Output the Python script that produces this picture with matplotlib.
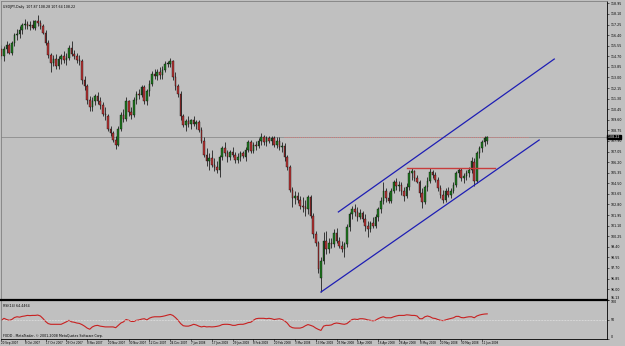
import numpy as np
import matplotlib
matplotlib.use("Agg")
import matplotlib.pyplot as plt

# USDJPY daily, one value per bar (bar index = position on the chart)
opens = [115.30, 114.70, 115.30, 115.60, 115.00, 115.80, 116.40, 116.50, 116.80, 117.20,
         117.30, 117.10, 117.20, 117.00, 117.50, 117.40, 117.10, 116.60, 115.80, 114.80,
         114.20, 114.50, 113.90, 114.50, 114.70, 114.40, 114.60, 115.40, 114.90, 114.70,
         114.40, 114.30, 112.80, 112.30, 111.20, 110.60, 111.10, 111.50, 111.10, 110.80,
         110.10, 109.90, 108.90, 108.50, 108.00, 107.60, 108.90, 110.00, 109.70, 111.10,
         110.20, 110.00, 111.20, 111.70, 111.60, 112.20, 111.10, 111.90, 112.50, 113.30,
         113.10, 113.40, 113.20, 113.60, 114.10, 114.10, 114.30, 113.00, 112.30, 111.70,
         109.90, 109.20, 109.50, 109.30, 109.60, 109.30, 109.40, 108.80, 107.90, 106.80,
         106.30, 106.50, 106.00, 105.80, 105.60, 106.60, 107.30, 106.90, 106.60, 107.00,
         106.80, 106.40, 106.60, 106.90, 106.60, 107.20, 107.80, 107.10, 107.60, 107.50,
         107.90, 108.20, 107.80, 108.10, 107.90, 108.10, 107.60, 107.90, 107.40, 107.50,
         106.60, 105.80, 104.00, 103.30, 103.50, 103.20, 102.70, 102.60, 102.40, 103.40,
         101.90, 100.40, 99.70, 96.90, 98.30, 99.90, 99.20, 99.70, 99.60, 100.50,
         99.90, 99.50, 99.20, 99.60, 101.00, 102.00, 102.40, 102.20, 101.80, 102.10,
         101.60, 101.10, 100.80, 101.30, 101.10, 101.80, 102.40, 103.10, 103.90, 103.30,
         103.10, 103.90, 104.60, 104.30, 104.40, 103.90, 103.50, 104.20, 105.30, 105.50,
         104.90, 104.60, 103.70, 103.00, 104.20, 104.70, 105.40, 105.20, 104.80, 104.10,
         103.60, 103.20, 103.90, 103.60, 103.90, 104.40, 105.30, 105.60, 104.90, 105.10,
         105.30, 105.60, 106.20, 104.70, 106.90, 107.30, 107.80, 107.87]
highs = [115.60, 115.50, 115.90, 115.80, 115.90, 116.60, 116.90, 117.10, 117.40, 117.70,
         117.50, 117.50, 117.60, 117.60, 118.00, 117.60, 117.30, 116.80, 116.00, 115.00,
         114.80, 114.90, 114.70, 114.90, 115.10, 115.00, 115.60, 115.90, 115.20, 115.00,
         114.80, 114.50, 113.10, 112.50, 111.50, 111.40, 111.70, 111.80, 111.40, 111.00,
         110.60, 110.10, 109.10, 108.70, 108.30, 109.10, 110.20, 110.50, 111.40, 111.20,
         110.60, 111.40, 111.90, 112.10, 112.40, 112.40, 112.10, 112.80, 113.50, 113.70,
         113.70, 113.80, 113.90, 114.30, 114.30, 114.60, 114.40, 113.40, 112.50, 111.90,
         110.10, 109.70, 109.90, 109.70, 109.90, 109.60, 109.60, 109.00, 108.20, 107.30,
         106.90, 107.20, 106.50, 106.30, 106.80, 107.50, 107.80, 107.20, 107.20, 107.40,
         107.00, 106.90, 107.10, 107.10, 107.40, 108.00, 108.00, 107.80, 107.90, 108.10,
         108.50, 108.40, 108.30, 108.30, 108.30, 108.30, 108.20, 108.20, 107.80, 107.70,
         106.80, 106.00, 104.20, 103.90, 103.80, 103.50, 103.40, 103.20, 103.60, 103.60,
         102.10, 100.70, 99.90, 98.60, 100.60, 100.70, 100.10, 100.10, 100.80, 100.90,
         100.20, 99.90, 99.80, 101.20, 102.20, 102.70, 102.80, 102.60, 102.40, 102.30,
         102.00, 101.50, 101.50, 101.80, 102.00, 102.60, 103.40, 104.60, 104.10, 103.80,
         104.10, 104.80, 104.90, 104.70, 104.60, 104.20, 104.50, 105.60, 105.70, 105.60,
         105.20, 104.80, 104.10, 104.40, 105.00, 105.70, 105.60, 105.40, 105.00, 104.40,
         104.00, 104.10, 104.20, 104.10, 104.60, 105.50, 105.75, 105.70, 105.30, 105.60,
         105.80, 106.60, 106.50, 107.10, 107.50, 108.00, 108.30, 108.28]
lows = [114.50, 114.30, 115.00, 114.90, 114.80, 115.50, 116.00, 116.20, 116.50, 116.90,
        116.90, 116.80, 116.90, 116.80, 117.10, 116.90, 116.50, 115.60, 114.60, 113.40,
        113.90, 113.70, 113.70, 114.10, 114.20, 114.00, 114.40, 114.70, 114.50, 114.20,
        114.00, 112.50, 112.00, 110.90, 110.30, 110.30, 110.80, 110.90, 110.50, 109.90,
        109.60, 108.70, 108.30, 107.80, 107.25, 107.50, 108.70, 109.40, 109.50, 109.90,
        109.70, 109.80, 110.90, 111.30, 111.40, 110.90, 110.80, 111.50, 112.30, 112.90,
        112.80, 112.90, 112.90, 113.40, 113.80, 113.80, 112.80, 112.00, 111.40, 109.60,
        109.00, 108.70, 109.00, 108.90, 109.10, 108.90, 108.60, 107.70, 106.60, 105.90,
        105.60, 105.80, 105.50, 105.30, 105.00, 106.40, 106.70, 106.20, 106.40, 106.60,
        106.10, 106.10, 106.30, 106.50, 106.30, 107.00, 106.90, 106.90, 107.20, 107.30,
        107.60, 107.60, 107.50, 107.70, 107.60, 107.40, 107.30, 107.20, 107.00, 106.30,
        105.60, 103.80, 102.60, 102.80, 102.90, 102.40, 102.20, 101.90, 102.00, 101.70,
        100.10, 99.50, 97.30, 95.77, 98.00, 98.80, 98.90, 99.30, 99.40, 99.70,
        99.30, 99.00, 98.60, 99.40, 100.70, 101.60, 101.90, 101.50, 101.60, 101.40,
        100.70, 100.20, 100.60, 100.90, 100.90, 101.50, 102.10, 102.80, 103.00, 102.90,
        102.90, 103.70, 104.00, 103.90, 103.60, 103.10, 103.30, 104.00, 104.80, 104.70,
        104.50, 103.40, 102.55, 102.80, 103.90, 104.50, 104.90, 104.60, 103.90, 103.30,
        102.90, 103.00, 103.40, 103.30, 103.70, 104.20, 105.00, 104.70, 104.50, 104.80,
        105.00, 105.30, 104.30, 104.50, 106.50, 107.00, 107.50, 107.64]
closes = [114.70, 115.30, 115.60, 115.00, 115.80, 116.40, 116.50, 116.80, 117.20, 117.30,
          117.10, 117.20, 117.00, 117.50, 117.40, 117.10, 116.60, 115.80, 114.80, 114.20,
          114.50, 113.90, 114.50, 114.70, 114.40, 114.60, 115.40, 114.90, 114.70, 114.40,
          114.30, 112.80, 112.30, 111.20, 110.60, 111.10, 111.50, 111.10, 110.80, 110.10,
          110.00, 108.90, 108.50, 108.00, 107.60, 108.90, 110.00, 109.70, 111.10, 110.20,
          110.00, 111.20, 111.70, 111.60, 112.20, 111.10, 111.90, 112.50, 113.30, 113.10,
          113.40, 113.20, 113.60, 114.10, 114.20, 114.30, 113.00, 112.30, 111.70, 109.90,
          109.20, 109.50, 109.30, 109.60, 109.30, 109.40, 108.80, 107.90, 106.80, 106.30,
          106.50, 106.00, 105.80, 105.60, 106.60, 107.30, 106.90, 106.60, 107.00, 106.80,
          106.40, 106.60, 106.90, 106.70, 107.20, 107.80, 107.10, 107.60, 107.50, 107.90,
          108.20, 107.80, 108.10, 107.90, 108.10, 107.60, 107.90, 107.40, 107.50, 106.60,
          105.80, 104.00, 103.30, 103.50, 103.20, 102.70, 102.60, 102.40, 103.40, 101.90,
          100.40, 99.70, 97.60, 98.30, 99.90, 99.20, 99.70, 99.60, 100.50, 99.90,
          99.50, 99.20, 99.60, 101.00, 102.00, 102.40, 102.20, 101.80, 102.10, 101.60,
          101.10, 100.80, 101.30, 101.10, 101.80, 102.40, 103.10, 103.90, 103.30, 103.10,
          103.90, 104.60, 104.30, 104.40, 103.90, 103.50, 104.20, 105.30, 105.50, 104.90,
          104.60, 103.70, 103.00, 104.20, 104.70, 105.40, 105.20, 104.80, 104.10, 103.60,
          103.20, 103.90, 103.60, 103.90, 104.40, 105.30, 105.60, 104.90, 105.10, 105.30,
          105.60, 106.30, 104.70, 106.90, 107.30, 107.80, 108.10, 108.22]

rsi = [48, 53, 50, 48, 50, 55, 57, 56, 58, 59,
       60.5, 60, 60.5, 60.5, 61.4, 59, 52.6, 45, 39.5, 37.7,
       37.7, 37.7, 37.7, 37.7, 41, 44, 48, 44, 43, 41,
       40, 37, 33, 28, 25, 31, 34, 35, 33, 32,
       31, 31, 31, 31, 29, 35, 41, 44, 50, 48,
       45, 45, 48, 49, 51, 52, 49, 53.5, 56, 57,
       57, 57, 58, 59.5, 61.4, 63, 60.5, 55, 48, 39.5,
       34, 33, 33, 35, 37.7, 36, 33, 31, 32.5, 31,
       31.5, 31, 31.5, 32.5, 34, 37, 37.7, 37.7, 37, 35,
       35, 37, 37.7, 37.7, 39.5, 42, 43, 48, 52, 53,
       53, 53, 52, 53, 52, 50, 51, 52, 50, 46.5,
       41, 32.5, 29, 28, 28, 28, 30, 34, 37, 35,
       32.5, 28, 24.6, 22, 33, 35, 35, 36, 39.5, 41,
       40, 38.6, 37.7, 39.5, 45, 50, 51, 50, 52, 52,
       51, 49, 48, 46.5, 48, 52, 55, 57, 54.4, 54.4,
       54.4, 57, 59, 60.5, 60.5, 60.5, 62, 61.4, 60.5, 60.5,
       59, 52, 52, 57, 59, 57, 53.5, 52.6, 50, 48,
       47, 49, 51, 52.6, 54.4, 58, 58, 55, 54.4, 56,
       57, 57, 54.4, 59, 61.4, 63, 64, 64.4464]

# drawn objects (bar index, price)
upper_channel_bars = [129.7, 212.8]
upper_channel_prices = [102.20, 114.48]
lower_channel_bars = [123.0, 207.0]
lower_channel_prices = [95.77, 107.98]
resistance_bars = [156.3, 190.1]
resistance_price = 105.69
dotted_bars = [108.6, 202.8]
last_price = 108.22

price_ticks = [95.13, 96.00, 96.85, 97.70, 98.55, 99.40, 100.25, 101.10, 101.95, 102.80,
               103.65, 104.50, 105.35, 106.20, 107.05, 107.90, 108.75, 109.60, 110.45,
               111.30, 112.15, 113.00, 113.85, 114.70, 115.55, 116.40, 117.25, 118.10, 118.95]
rsi_ticks = [0, 50, 100]
date_labels = ["20 Sep 2007", "8 Oct 2007", "17 Oct 2007", "29 Oct 2007", "8 Nov 2007",
               "20 Nov 2007", "30 Nov 2007", "12 Dec 2007", "24 Dec 2007", "7 Jan 2008",
               "17 Jan 2008", "29 Jan 2008", "8 Feb 2008", "20 Feb 2008", "3 Mar 2008",
               "13 Mar 2008", "25 Mar 2008", "4 Apr 2008", "16 Apr 2008", "28 Apr 2008",
               "8 May 2008", "20 May 2008", "30 May 2008", "11 Jun 2008"]
date_label_bars = [0] + [9 + 8 * k for k in range(23)]

BG = "#c0c0c0"
UP, DOWN = "#207a20", "#b83434"
W, H = 625, 346
FS = 2.3

fig = plt.figure(figsize=(W / 100, H / 100), dpi=100, facecolor=BG)


def px_axes(x0, y0, x1, y1):
    return fig.add_axes([x0 / W, 1 - y1 / H, (x1 - x0) / W, (y1 - y0) / H], facecolor=BG)


ax = px_axes(1, 1, 607, 300)
rx = px_axes(1, 300, 607, 339)
XLIM = (-0.15, 233.1)

o, h, l, c = map(np.asarray, (opens, highs, lows, closes))
idx = np.arange(len(c))
up = c >= o
ax.vlines(idx, l, h, color="black", linewidth=0.5, zorder=2)
ax.bar(idx, np.maximum(np.abs(c - o), 0.04), bottom=np.minimum(o, c), width=0.62,
       color=np.where(up, UP, DOWN), edgecolor="black", linewidth=0.25, zorder=3)

ax.axhline(last_price, color="#8c8c8c", linewidth=0.6, zorder=1)
ax.plot(dotted_bars, [last_price] * 2, color="#d88080", linewidth=0.7, linestyle=(0, (1, 1)), zorder=1.5)
ax.plot(resistance_bars, [resistance_price] * 2, color="#c83c3c", linewidth=1.0, zorder=4)
ax.plot(upper_channel_bars, upper_channel_prices, color="#1e1eb4", linewidth=0.9, zorder=4)
ax.plot(lower_channel_bars, lower_channel_prices, color="#1e1eb4", linewidth=0.9, zorder=4)

ax.set_xlim(*XLIM)
ax.set_ylim(95.13, 95.13 + 299 * 0.0803)
ax.yaxis.tick_right()
ax.set_yticks(price_ticks)
ax.set_yticklabels([f"{v:.2f}" for v in price_ticks])
ax.tick_params(axis="y", labelsize=FS, length=1.5, width=0.4, pad=1, colors="black")
ax.get_yticklabels()[0].set_va("bottom")
ax.set_xticks([])
for side in ("left", "top"):
    ax.spines[side].set_color("#808080")
    ax.spines[side].set_linewidth(0.6)
ax.spines["right"].set_color("black")
ax.spines["right"].set_linewidth(0.6)
ax.spines["bottom"].set_visible(False)
ax.text(1.0, last_price, " %.2f " % last_price, transform=ax.get_yaxis_transform(),
        ha="left", va="center", fontsize=FS, color="white",
        bbox=dict(boxstyle="square,pad=0.15", fc="black", ec="black"), zorder=6)
ax.text(0.004, 0.985, "USDJPY,Daily  107.87 108.28 107.64 108.22", transform=ax.transAxes,
        fontsize=FS, va="top", ha="left")

rx.plot(idx, rsi, color="#c82020", linewidth=0.8)
rx.axhline(50, color="#f0f0f0", linewidth=0.5, linestyle=(0, (1, 1.2)))
rx.set_xlim(*XLIM)
rx.set_ylim(0, 100)
rx.yaxis.tick_right()
rx.set_yticks(rsi_ticks)
rx.set_yticklabels([str(v) for v in rsi_ticks])
rx.tick_params(axis="y", labelsize=FS, length=1.5, width=0.4, pad=1)
rx.get_yticklabels()[-1].set_va("top")
rx.get_yticklabels()[0].set_va("bottom")
rx.set_xticks(date_label_bars)
rx.set_xticklabels(date_labels, ha="left")
rx.tick_params(axis="x", labelsize=2.0, length=1.2, width=0.4, pad=0.4)
rx.spines["top"].set_linewidth(1.6)
rx.spines["top"].set_color("black")
rx.spines["left"].set_color("#808080")
rx.spines["left"].set_linewidth(0.6)
for side in ("right", "bottom"):
    rx.spines[side].set_color("black")
    rx.spines[side].set_linewidth(0.6)
rx.text(0.004, 0.9, "RSI(14) 64.4464", transform=rx.transAxes, fontsize=FS, va="top")
rx.text(0.004, 0.03, "FXDD - MetaTrader, \u00a9 2001-2008 MetaQuotes Software Corp.",
        transform=rx.transAxes, fontsize=FS, va="bottom")

fig.savefig("out.png", dpi=100, facecolor=BG)
